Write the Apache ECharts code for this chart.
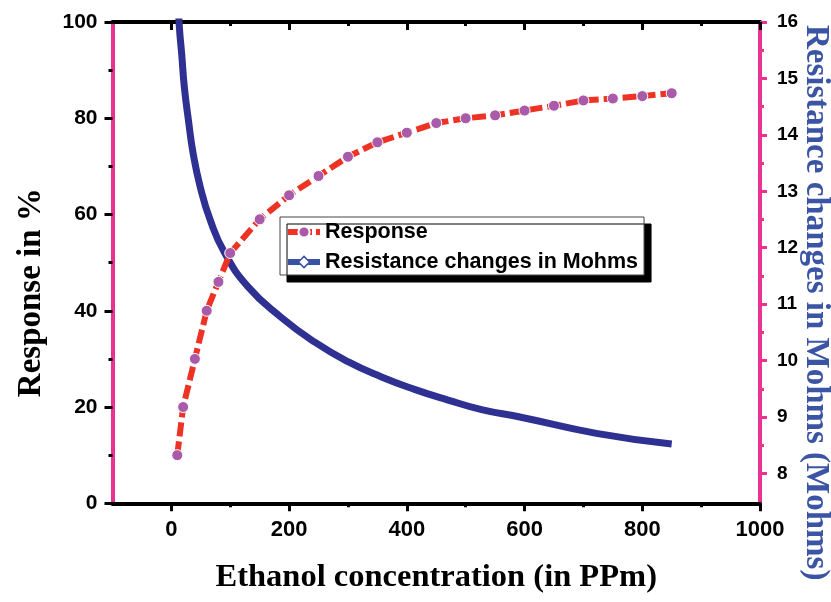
<!DOCTYPE html>
<html>
<head>
<meta charset="utf-8">
<script src="https://cdn.jsdelivr.net/npm/echarts@6/dist/echarts.min.js"></script>
<style>
html,body{margin:0;padding:0;background:#fff;overflow:hidden;width:831px;height:602px;}
#chart{width:831px;height:602px;}
</style>
</head>
<body>
<div id="chart"></div>
<script>
// ---- data ----
const responseX = [10, 20, 40, 60, 80, 100, 150, 200, 250, 300, 350, 400, 450, 500, 550, 600, 650, 700, 750, 800, 850];
const responseY = [10, 20, 30, 40, 46, 52, 59, 64, 68, 72, 75, 77, 79, 80, 80.6, 81.6, 82.6, 83.7, 84.1, 84.6, 85.2];
const resistanceX = [10, 13.6, 17.5, 22, 29, 37, 49, 66, 90, 130, 186, 243, 300, 357, 413, 470, 527, 592, 722, 850];
const resistanceY = [16.7, 15.91, 15.44, 14.85, 14.26, 13.67, 13.08, 12.49, 11.92, 11.31, 10.77, 10.33, 9.98, 9.71, 9.49, 9.30, 9.13, 9.00, 8.71, 8.52];
const xMajorTicks = [0, 200, 400, 600, 800, 1000];
const xMinorTicks = [100, 300, 500, 700, 900];
const rightMajorTicks = [8, 9, 10, 11, 12, 13, 14, 15, 16];
const rightMinorTicks = [8.5, 9.5, 10.5, 11.5, 12.5, 13.5, 14.5, 15.5];
const seriesNames = ['Response', 'Resistance changes in Mohms'];
const xTitle = 'Ethanol concentration (in PPm)';
const yLeftTitle = 'Response in %';
const yRightTitle = 'Resistance changes in Mohms (Mohms)';

const PINK = '#ea3290';
const RED = '#ee3224';
const BLUE = '#2e3191';
const SANS = 'Liberation Sans';
const SERIF = 'Liberation Serif';
const plain = v => String(v);

const chart = echarts.init(document.getElementById('chart'), null, {renderer: 'canvas', width: 831, height: 602});

const xBase = {
  type: 'value', min: -100, max: 1000, splitLine: {show: false}
};
const option = {
  animation: false,
  backgroundColor: '#fff',
  grid: {left: 112.5, right: 71, top: 22, bottom: 98.7, containLabel: false, outerBoundsMode: 'none'},
  legend: {
    orient: 'vertical', left: 280, top: 217,
    padding: [4, 6, 2, 5], itemGap: 8, itemWidth: 32, itemHeight: 14,
    backgroundColor: '#fff', borderColor: '#444', borderWidth: 1,
    shadowColor: '#000', shadowBlur: 0, shadowOffsetX: 7, shadowOffsetY: 7,
    textStyle: {fontFamily: SANS, fontWeight: 'bold', fontSize: 21.5, color: '#000'},
    data: [
      {name: seriesNames[0], lineStyle: {color: RED, width: 6, type: [10, 4]}},
      {name: seriesNames[1], lineStyle: {color: '#3953a4', width: 6, type: 'solid'},
       itemStyle: {color: '#fff', borderColor: '#3953a4', borderWidth: 1.5}}
    ]
  },
  xAxis: [
    Object.assign({}, xBase, {
      position: 'bottom',
      axisLine: {show: true, onZero: false, lineStyle: {color: '#000', width: 4}},
      axisTick: {show: true, customValues: xMajorTicks, length: 8, lineStyle: {color: '#000', width: 3}},
      axisLabel: {customValues: xMajorTicks, formatter: plain, margin: 16, fontFamily: SANS, fontWeight: 'bold', fontSize: 22, color: '#000'},
      name: xTitle, nameLocation: 'middle', nameGap: 58,
      nameTextStyle: {fontFamily: SERIF, fontWeight: 'bold', fontSize: 32.5, color: '#000'}
    }),
    Object.assign({}, xBase, {
      position: 'bottom',
      axisLine: {show: false, onZero: false},
      axisTick: {show: true, customValues: xMinorTicks, length: 4, lineStyle: {color: '#000', width: 3}},
      axisLabel: {show: false}
    }),
    Object.assign({}, xBase, {
      position: 'top',
      axisLine: {show: true, onZero: false, lineStyle: {color: '#000', width: 4}},
      axisTick: {show: true, inside: true, customValues: xMajorTicks, length: 8, lineStyle: {color: '#000', width: 3}},
      axisLabel: {show: false}
    }),
    Object.assign({}, xBase, {
      position: 'top',
      axisLine: {show: false, onZero: false},
      axisTick: {show: true, inside: true, customValues: xMinorTicks, length: 4, lineStyle: {color: '#000', width: 3}},
      axisLabel: {show: false}
    })
  ],
  yAxis: [
    {
      type: 'value', position: 'left', min: 0, max: 100, interval: 20,
      splitLine: {show: false},
      axisLine: {show: true, onZero: false, lineStyle: {color: PINK, width: 4}},
      axisTick: {show: true, length: 8, lineStyle: {color: '#000', width: 3}},
      minorTick: {show: true, splitNumber: 2, length: 4, lineStyle: {color: '#000', width: 3}},
      axisLabel: {margin: 15, formatter: plain, fontFamily: SANS, fontWeight: 'bold', fontSize: 21, color: '#000'},
      name: yLeftTitle, nameLocation: 'middle', nameGap: 65, nameRotate: 90,
      nameTextStyle: {fontFamily: SERIF, fontWeight: 'bold', fontSize: 33, color: '#000', padding: [0, 60, 0, 0]}
    },
    {
      type: 'value', position: 'right', min: 7.47, max: 16,
      splitLine: {show: false},
      axisLine: {show: true, onZero: false, lineStyle: {color: PINK, width: 4}},
      axisTick: {show: true, customValues: rightMajorTicks, length: 7, lineStyle: {color: PINK, width: 3}},
      axisLabel: {customValues: rightMajorTicks, formatter: plain, margin: 17, fontFamily: SANS, fontWeight: 'bold', fontSize: 19, color: '#000'},
      name: yRightTitle, nameLocation: 'middle', nameGap: 39, nameRotate: -90, nameMoveOverlap: false,
      nameTextStyle: {fontFamily: SERIF, fontWeight: 'bold', fontSize: 33, color: '#3b55a4', padding: [0, 0, 0, 80]}
    },
    {
      type: 'value', position: 'right', min: 7.47, max: 16,
      splitLine: {show: false},
      axisLine: {show: false, onZero: false},
      axisTick: {show: true, customValues: rightMinorTicks, length: 4, lineStyle: {color: PINK, width: 3}},
      axisLabel: {show: false}
    }
  ],
  series: [
    {
      name: seriesNames[1], type: 'line', xAxisIndex: 0, yAxisIndex: 1,
      data: resistanceX.map((x, i) => [x, resistanceY[i]]),
      smooth: 0.5, showSymbol: false, symbol: 'diamond',
      clip: true,
      lineStyle: {color: BLUE, width: 7},
      itemStyle: {color: BLUE},
      z: 2
    },
    {
      name: seriesNames[0], type: 'line', xAxisIndex: 0, yAxisIndex: 0,
      data: responseX.map((x, i) => [x, responseY[i]]),
      symbol: 'circle', symbolSize: 11,
      lineStyle: {color: RED, width: 6, type: [14, 5]},
      itemStyle: {color: '#a95aa8', borderColor: '#fff', borderWidth: 1},
      z: 3
    }
  ]
};
chart.setOption(option);
</script>
</body>
</html>
